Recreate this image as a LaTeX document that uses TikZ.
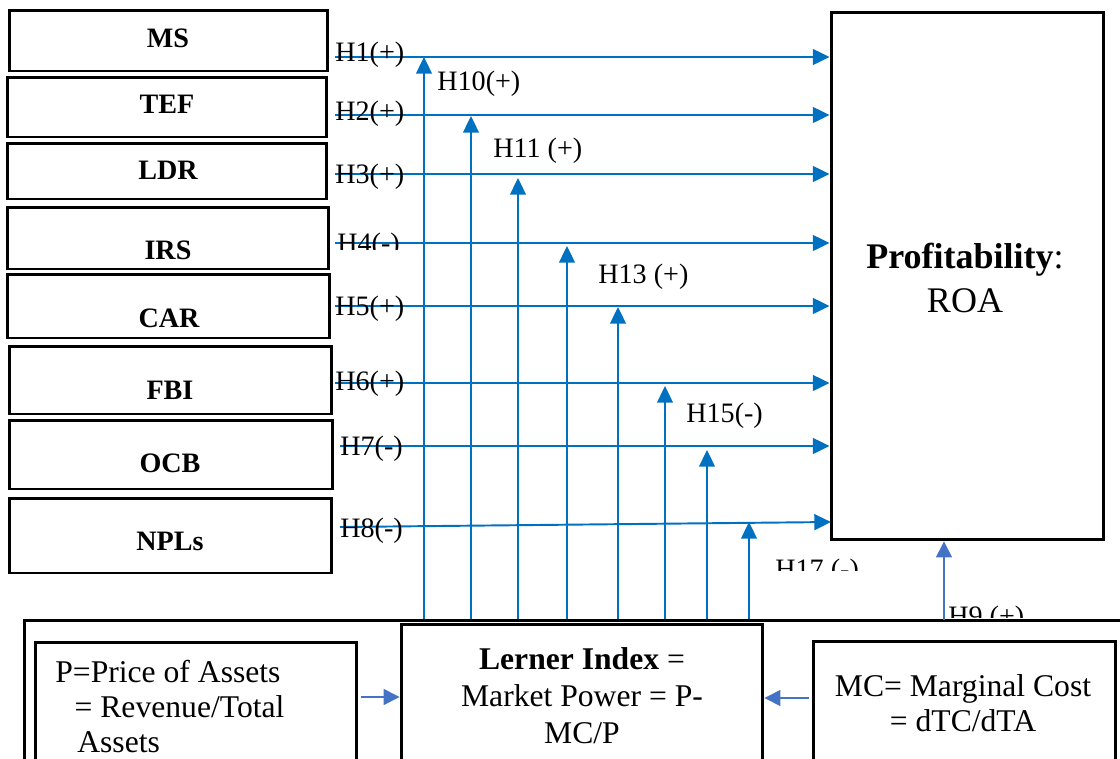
\documentclass[tikz,border=0pt]{standalone}
\usepackage{fontspec}
\setmainfont{Liberation Serif}
\usetikzlibrary{arrows.meta}
\definecolor{linkblue}{HTML}{0070C0}
\definecolor{softblue}{HTML}{4472C4}

\begin{document}
\begin{tikzpicture}[x=0.02cm, y=-0.02cm,
  varbox/.style={draw=black, line width=1.7pt, inner sep=0pt},
  varlabel/.style={inner sep=0pt, font=\fontsize{16}{19}\selectfont\bfseries},
  hlabel/.style={anchor=west, inner sep=0pt, font=\fontsize{16}{19}\selectfont},
  linkarrow/.style={draw=linkblue, line width=1.1pt, -{Triangle[length=9.5pt,width=9pt]}},
  softarrow/.style={draw=softblue, line width=0.8pt, -{Triangle[length=9pt,width=9pt]}},
  bigtext/.style={inner sep=0pt, font=\fontsize{18}{20}\selectfont}]

  \clip (0,0) rectangle (1120,758);

  % Determinant boxes (left column)
  \node[varbox, minimum width=6.38cm, minimum height=1.22cm] (msbox) at (168.5,40.5) {};
  \node[varbox, minimum width=6.40cm, minimum height=1.20cm] (tefbox) at (167,107) {};
  \node[varbox, minimum width=6.40cm, minimum height=1.12cm] (ldrbox) at (167,171) {};
  \node[varbox, minimum width=6.44cm, minimum height=1.24cm] (irsbox) at (168,238) {};
  \node[varbox, minimum width=6.46cm, minimum height=1.28cm] (carbox) at (168.5,306) {};
  \node[varbox, minimum width=6.46cm, minimum height=1.36cm] (fbibox) at (170.5,380) {};
  \node[varbox, minimum width=6.48cm, minimum height=1.38cm] (ocbbox) at (171,454.5) {};
  \node[varbox, minimum width=6.46cm, minimum height=1.50cm] (nplbox) at (170.5,535.5) {};

  \node[varlabel] (ms) at (168,38) {MS};
  \node[varlabel] (tef) at (167,104) {TEF};
  \node[varlabel] (ldr) at (168,170) {LDR};
  \node[varlabel] (irs) at (168,250) {IRS};
  \node[varlabel] (car) at (169,318) {CAR};
  \node[varlabel] (fbi) at (170,390) {FBI};
  \node[varlabel] (ocb) at (170,463) {OCB};
  \node[varlabel] (npl) at (170,541) {NPLs};

  % Profitability box
  \node[varbox, minimum width=5.46cm, minimum height=10.56cm] (roa) at (967.5,276) {};
  \node[inner sep=0pt, align=center, font=\fontsize{20.5}{25.5}\selectfont] (roatext) at (965,278)
    {\textbf{Profitability}:\\ROA};

  % Market power boxes (bottom)
  \node[varbox, minimum width=22.02cm, minimum height=3.6cm] (market) at (574.5,710) {};
  \node[varbox, minimum width=6.44cm, minimum height=3.16cm] (pbox) at (196,721) {};
  \node[varbox, minimum width=7.24cm, minimum height=3.52cm] (lerner) at (582,712) {};
  \node[varbox, minimum width=6.06cm, minimum height=3.18cm] (mcbox) at (964.5,720.5) {};

  \node[bigtext, anchor=north west, align=left] (ptext) at (55,660)
    {P=Price of Assets\\\hspace*{11pt}= Revenue/Total\\\hspace*{12.5pt}Assets};
  \node[bigtext, anchor=north, align=center, font=\fontsize{18}{21}\selectfont] (lernertext) at (582,647)
    {\textbf{Lerner Index} =\\Market Power = P-\\MC/P};
  \node[bigtext, anchor=north, align=center] (mctext) at (963,674)
    {MC= Marginal Cost\\= dTC/dTA};

  % Direct effects H1-H8
  \coordinate (h1) at (335,57);
  \coordinate (h2) at (335,115);
  \coordinate (h3) at (335,174);
  \coordinate (h4) at (335,243);
  \coordinate (h5) at (335,306);
  \coordinate (h6) at (335,383);
  \coordinate (h7) at (340,446);
  \coordinate (h8) at (340,527);
  \coordinate (h8end) at (831,522);
  \draw[linkarrow] (h1) -- (h1 -| roa.west);
  \draw[linkarrow] (h2) -- (h2 -| roa.west);
  \draw[linkarrow] (h3) -- (h3 -| roa.west);
  \draw[linkarrow] (h4) -- (h4 -| roa.west);
  \draw[linkarrow] (h5) -- (h5 -| roa.west);
  \draw[linkarrow] (h6) -- (h6 -| roa.west);
  \draw[linkarrow] (h7) -- (h7 -| roa.west);
  \draw[linkarrow] (h8) -- (h8end);

  % Moderating effects of market power
  \coordinate (v10) at (424,57);
  \coordinate (v11) at (471,116);
  \coordinate (v12) at (518,178);
  \coordinate (v13) at (567,246);
  \coordinate (v14) at (618,307);
  \coordinate (v15) at (665,386);
  \coordinate (v16) at (707,450);
  \coordinate (v17) at (749,522);
  \draw[linkarrow] (v10 |- market.north) -- (v10);
  \draw[linkarrow] (v11 |- market.north) -- (v11);
  \draw[linkarrow] (v12 |- market.north) -- (v12);
  \draw[linkarrow] (v13 |- market.north) -- (v13);
  \draw[linkarrow] (v14 |- market.north) -- (v14);
  \draw[linkarrow] (v15 |- market.north) -- (v15);
  \draw[linkarrow] (v16 |- market.north) -- (v16);
  \draw[linkarrow] (v17 |- market.north) -- (v17);

  % Market power to profitability, and its parts
  \coordinate (h9foot) at (944,620);
  \draw[softarrow] (h9foot) -- (h9foot |- roa.south);
  \coordinate (pout) at (361,697);
  \coordinate (mcout) at (809,698);
  \draw[softarrow] (pout) -- (pout -| lerner.west);
  \draw[softarrow] (mcout) -- (mcout -| lerner.east);

  % Hypothesis labels
  \node[hlabel] (h1lbl) at (335,55) {H1(+)};
  \node[hlabel] (h2lbl) at (335,114) {H2(+)};
  \node[hlabel] (h3lbl) at (335,177) {H3(+)};
  \begin{scope}
    \clip (330,228) rectangle (420,249);
    \node[hlabel] (h4lbl) at (337,246) {H4(-)};
  \end{scope}
  \node[hlabel] (h5lbl) at (335,309) {H5(+)};
  \node[hlabel] (h6lbl) at (335,384) {H6(+)};
  \node[hlabel] (h7lbl) at (340,449) {H7(-)};
  \node[hlabel] (h8lbl) at (340,531) {H8(-)};
  \node[hlabel] (h10lbl) at (437,84) {H10(+)};
  \node[hlabel] (h11lbl) at (493,151) {H11 (+)};
  \node[hlabel] (h13lbl) at (598,277) {H13 (+)};
  \node[hlabel] (h15lbl) at (686,416) {H15(-)};
  \begin{scope}
    \clip (770,550) rectangle (870,570);
    \node[hlabel] (h17lbl) at (775,572) {H17 (-)};
  \end{scope}
  \begin{scope}
    \clip (940,598) rectangle (1040,617);
    \node[hlabel] (h9lbl) at (948,619) {H9 (+)};
  \end{scope}
\end{tikzpicture}
\end{document}
